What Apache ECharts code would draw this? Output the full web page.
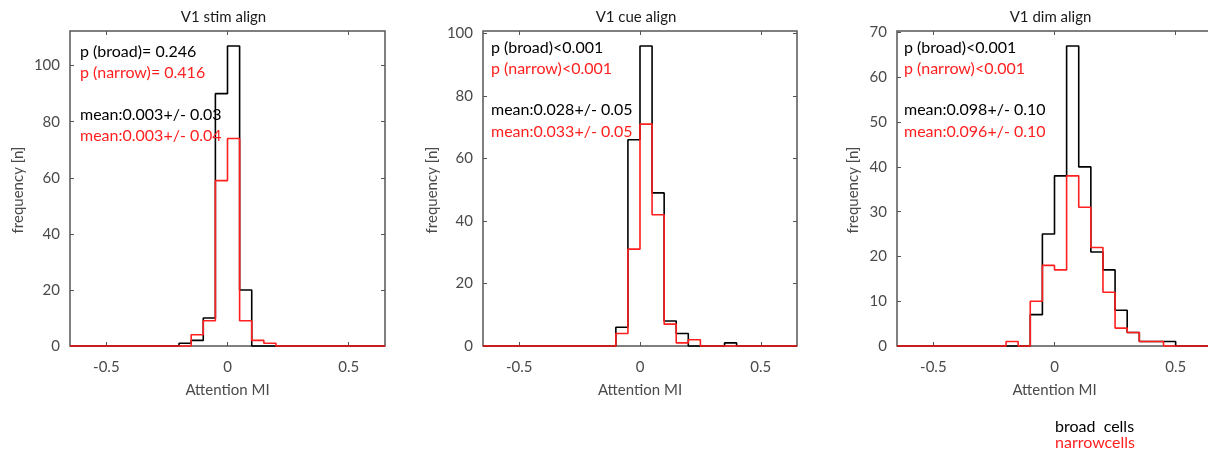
<!DOCTYPE html>
<html>
<head>
<meta charset="utf-8">
<title>V1 attention MI histograms</title>
<script src="https://cdn.jsdelivr.net/npm/echarts@6/dist/echarts.min.js"></script>
<style>
  html, body { margin: 0; padding: 0; background: #fff; overflow: hidden; }
  #chart { width: 1216px; height: 452px; }
</style>
</head>
<body>
<div id="chart"></div>
<script>
// Bin edges of the attention-MI histograms (bin width 0.05)
const binEdges = [-0.65, -0.6, -0.55, -0.5, -0.45, -0.4, -0.35, -0.3, -0.25, -0.2, -0.15, -0.1, -0.05,
                  0, 0.05, 0.1, 0.15, 0.2, 0.25, 0.3, 0.35, 0.4, 0.45, 0.5, 0.55, 0.6, 0.65];

// Cell counts per bin (26 bins)
const stimBroad  = [0,0,0,0,0,0,0,0,0, 1, 2,10,90,107,20, 0, 0, 0,0,0,0,0,0,0,0,0];
const stimNarrow = [0,0,0,0,0,0,0,0,0, 0, 4, 9,59, 74, 9, 2, 1, 0,0,0,0,0,0,0,0,0];
const cueBroad   = [0,0,0,0,0,0,0,0,0, 0, 0, 6,66, 96,49, 8, 4, 0,0,0,1,0,0,0,0,0];
const cueNarrow  = [0,0,0,0,0,0,0,0,0, 0, 0, 4,31, 71,42, 7, 1, 2,0,0,0,0,0,0,0,0];
const dimBroad   = [0,0,0,0,0,0,0,0,0, 0, 0, 7,25, 38,67,40,21,17,8,3,1,1,1,0,0,0];
const dimNarrow  = [0,0,0,0,0,0,0,0,0, 1, 0,10,18, 17,38,31,22,12,4,3,1,1,0,0,0,0];

const panelTitles = ['V1 stim align', 'V1 cue align', 'V1 dim align'];
const pBroad  = ['p (broad)= 0.246', 'p (broad)<0.001', 'p (broad)<0.001'];
const pNarrow = ['p (narrow)= 0.416', 'p (narrow)<0.001', 'p (narrow)<0.001'];
const meanBroad  = ['mean:0.003+/- 0.03', 'mean:0.028+/- 0.05', 'mean:0.098+/- 0.10'];
const meanNarrow = ['mean:0.003+/- 0.04', 'mean:0.033+/- 0.05', 'mean:0.096+/- 0.10'];

const xTicks = [-0.5, 0, 0.5];
const yTicks = [[0, 20, 40, 60, 80, 100], [0, 20, 40, 60, 80, 100], [0, 10, 20, 30, 40, 50, 60, 70]];
const yMax = [112.35, 100.8, 70.35];
const xRange = [-0.65, 0.65];

const legendLabels = ['broad  cells', 'narrowcells'];

const broadSeries = [stimBroad, cueBroad, dimBroad];
const narrowSeries = [stimNarrow, cueNarrow, dimNarrow];

// Layout of the three panels (pixels)
const panels = [
  { left: 70,  top: 31, width: 315, height: 315, yNameGap: 52, textX: 80,  textY: [52, 73, 115, 136] },
  { left: 483, top: 31, width: 314, height: 315, yNameGap: 51, textX: 491, textY: [48, 69, 110, 132] },
  { left: 897, top: 31, width: 315, height: 315, yNameGap: 44, textX: 904, textY: [48, 69, 110, 132] }
];

const BLACK = '#000000';
const RED = '#ff1f1f';
const AXIS = '#555555';
const LABEL = '#4a4a4a';
const FONT = 'Lato, "Open Sans", sans-serif';

// Stair outline: one point per left edge plus the closing right edge
function stairs(counts) {
  const pts = counts.map((c, i) => [binEdges[i], c]);
  pts.push([binEdges[counts.length], counts[counts.length - 1]]);
  return pts;
}

function label(text, x, y, color, size, align, extra) {
  return Object.assign({
    type: 'text', x: x, y: y, z: 10,
    style: { text: text, fill: color, font: size + 'px ' + FONT,
             align: align, verticalAlign: 'middle', textAlign: align, textVerticalAlign: 'middle' }
  }, extra || {});
}

const grid = [], xAxis = [], yAxis = [], series = [], graphic = [];

panels.forEach((p, k) => {
  grid.push({
    left: p.left, top: p.top, width: p.width, height: p.height,
    show: true, borderColor: AXIS, borderWidth: 1.5, backgroundColor: '#fff'
  });
  const tickStyle = { show: true, inside: true, length: 4, lineStyle: { color: AXIS, width: 1 } };
  const noLine = { show: false, onZero: false };
  // bottom and top x axes
  xAxis.push({
    type: 'value', gridIndex: k, position: 'bottom', min: xRange[0], max: xRange[1],
    axisLine: noLine, splitLine: { show: false },
    axisTick: Object.assign({ customValues: xTicks }, tickStyle),
    axisLabel: { customValues: xTicks, margin: 14, color: LABEL, fontSize: 15, fontFamily: FONT }
  });
  xAxis.push({
    type: 'value', gridIndex: k, position: 'top', min: xRange[0], max: xRange[1],
    axisLine: noLine, splitLine: { show: false },
    axisTick: Object.assign({ customValues: xTicks }, tickStyle),
    axisLabel: { show: false }
  });
  // left and right y axes
  yAxis.push({
    type: 'value', gridIndex: k, position: 'left', min: 0, max: yMax[k],
    axisLine: noLine, splitLine: { show: false },
    axisTick: Object.assign({ customValues: yTicks[k] }, tickStyle),
    axisLabel: { customValues: yTicks[k], margin: 10, color: LABEL, fontSize: 15, fontFamily: FONT }
  });
  yAxis.push({
    type: 'value', gridIndex: k, position: 'right', min: 0, max: yMax[k],
    axisLine: noLine, splitLine: { show: false },
    axisTick: Object.assign({ customValues: yTicks[k] }, tickStyle),
    axisLabel: { show: false }
  });

  series.push({
    name: 'broad cells', type: 'line', xAxisIndex: 2 * k, yAxisIndex: 2 * k,
    data: stairs(broadSeries[k]), step: 'end', showSymbol: false, symbol: 'none',
    clip: false, lineStyle: { color: BLACK, width: 1.6 }, z: 3, animation: false
  });
  series.push({
    name: 'narrow cells', type: 'line', xAxisIndex: 2 * k, yAxisIndex: 2 * k,
    data: stairs(narrowSeries[k]), step: 'end', showSymbol: false, symbol: 'none',
    clip: false, lineStyle: { color: RED, width: 1.6 }, z: 4, animation: false
  });

  const cx = p.left + p.width / 2;
  graphic.push(label(panelTitles[k], cx - 4, 17, '#1a1a1a', 15, 'center'));
  graphic.push(label('Attention MI', cx, 390, LABEL, 15, 'center'));
  graphic.push(label('frequency [n]', p.left - p.yNameGap, 190, LABEL, 15, 'center', { rotation: Math.PI / 2 }));
  // statistics annotations
  const lines = [[pBroad[k], BLACK], [pNarrow[k], RED], [meanBroad[k], BLACK], [meanNarrow[k], RED]];
  lines.forEach((ln, j) => {
    graphic.push(label(ln[0], p.textX, p.textY[j], ln[1], 16, 'left'));
  });
});

// cell-type key
graphic.push(label(legendLabels[0], 1055, 427, BLACK, 16, 'left'));
graphic.push(label(legendLabels[1], 1055, 443, RED, 16, 'left'));

const chart = echarts.init(document.getElementById('chart'), null, { renderer: 'canvas' });
chart.setOption({
  animation: false,
  backgroundColor: '#ffffff',
  grid, xAxis, yAxis, series, graphic
});
</script>
</body>
</html>
